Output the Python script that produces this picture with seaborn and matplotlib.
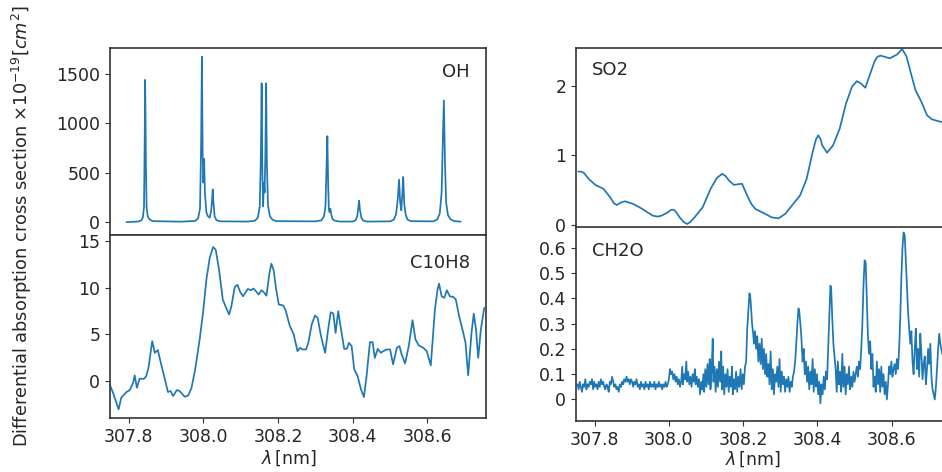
import numpy as np
import pandas as pd
import matplotlib
matplotlib.use("Agg")
import matplotlib.pyplot as plt
import seaborn as sns

# OH cross section (wavelength nm, value)
oh_wl = [307.794, 307.825, 307.834, 307.838, 307.841, 307.843, 307.844, 307.845, 307.846, 307.848, 307.851,
         307.855, 307.864, 307.940, 307.978, 307.986, 307.991, 307.994, 307.996, 307.998, 308.000, 308.002,
         308.004, 308.008, 308.012, 308.017, 308.021, 308.023, 308.025, 308.027, 308.030, 308.035, 308.045,
         308.120, 308.138, 308.146, 308.151, 308.154, 308.156, 308.158, 308.160, 308.162, 308.164, 308.166,
         308.168, 308.170, 308.173, 308.178, 308.185, 308.195, 308.300, 308.316, 308.323, 308.327, 308.330,
         308.332, 308.334, 308.336, 308.338, 308.340, 308.342, 308.346, 308.352, 308.365, 308.400, 308.408,
         308.412, 308.415, 308.417, 308.419, 308.423, 308.428, 308.438, 308.500, 308.510, 308.516, 308.521,
         308.524, 308.527, 308.530, 308.533, 308.535, 308.538, 308.542, 308.547, 308.556, 308.615, 308.626,
         308.633, 308.638, 308.641, 308.644, 308.647, 308.650, 308.655, 308.662, 308.672, 308.689]
oh_val = [0, 6, 18, 50, 150, 900, 1440, 1100, 600, 150, 60,
          30, 10, 5, 12, 40, 140, 800, 1675, 700, 400, 640,
          300, 100, 60, 45, 120, 210, 332, 200, 60, 20, 8,
          6, 15, 45, 160, 700, 1405, 500, 160, 400, 300, 700,
          1405, 600, 170, 60, 25, 10, 8, 18, 60, 160, 600,
          870, 400, 130, 100, 136, 85, 30, 15, 6, 6, 20,
          60, 150, 217, 130, 45, 15, 6, 8, 25, 80, 250,
          430, 200, 120, 300, 457, 180, 70, 25, 10, 8, 25,
          90, 300, 800, 1232, 600, 200, 70, 28, 10, 5]

# C10H8
c10_wl = [307.749, 307.758, 307.773, 307.780, 307.794, 307.803, 307.812, 307.816, 307.822, 307.829,
          307.841, 307.847, 307.853, 307.863, 307.870, 307.878, 307.887, 307.896, 307.905, 307.912,
          307.919, 307.929, 307.936, 307.950, 307.959, 307.968, 307.978, 307.990, 307.999, 308.008,
          308.017, 308.026, 308.033, 308.042, 308.052, 308.061, 308.069, 308.075, 308.084, 308.091,
          308.099, 308.106, 308.112, 308.119, 308.127, 308.134, 308.141, 308.148, 308.155, 308.162,
          308.169, 308.177, 308.182, 308.188, 308.195, 308.202, 308.213, 308.220, 308.231, 308.242,
          308.252, 308.259, 308.265, 308.275, 308.281, 308.290, 308.299, 308.306, 308.315, 308.326,
          308.334, 308.341, 308.348, 308.354, 308.361, 308.368, 308.377, 308.384, 308.390, 308.397,
          308.404, 308.413, 308.422, 308.430, 308.437, 308.446, 308.453, 308.459, 308.467, 308.475,
          308.482, 308.491, 308.500, 308.508, 308.518, 308.525, 308.531, 308.540, 308.550, 308.560,
          308.568, 308.577, 308.589, 308.598, 308.609, 308.620, 308.627, 308.631, 308.638, 308.645,
          308.652, 308.660, 308.669, 308.676, 308.685, 308.696, 308.702, 308.709, 308.718, 308.724,
          308.730, 308.736, 308.743, 308.752]
c10_val = [-0.39, -1.28, -3.07, -1.82, -1.21, -1.0, -0.2, 0.58, -0.75, 0.21,
           0.21, 0.5, 1.4, 4.25, 3.0, 3.29, 1.76, 0.32, -1.21, -1.1,
           -1.64, -1.0, -1.1, -1.71, -1.6, -0.8, 1.22, 4.43, 7.29, 10.86,
           13.2, 14.36, 14.07, 11.9, 8.72, 7.82, 7.11, 8.0, 10.07, 10.3,
           9.5, 9.07, 9.43, 9.86, 9.72, 9.9, 9.61, 9.25, 9.72, 9.5,
           9.14, 11.57, 12.57, 11.9, 9.79, 8.18, 8.1, 7.6, 5.94, 4.97,
           3.18, 3.54, 3.36, 3.36, 4.07, 6.04, 7.0, 6.75, 4.79, 3.0,
           5.5, 7.36, 7.22, 5.14, 7.47, 5.68, 3.43, 3.43, 4.07, 3.72,
           1.22, 0.5, -0.92, -1.75, 0.5, 4.14, 4.14, 2.46, 3.43, 3.0,
           3.18, 3.36, 3.36, 1.76, 3.54, 3.72, 2.83, 1.86, 3.72, 6.5,
           4.43, 3.79, 3.54, 3.18, 1.65, 7.65, 9.79, 10.43, 9.07, 8.9,
           9.72, 9.07, 9.0, 8.72, 6.9, 5.14, 4.07, 0.58, 5.14, 7.22,
           5.5, 2.46, 5.5, 7.82]

# SO2
so2_wl = [307.756, 307.764, 307.771, 307.784, 307.802, 307.824, 307.842, 307.852, 307.860, 307.870,
          307.882, 307.904, 307.926, 307.942, 307.957, 307.970, 307.980, 307.997, 308.006, 308.013,
          308.020, 308.029, 308.040, 308.049, 308.058, 308.069, 308.091, 308.113, 308.130, 308.144,
          308.153, 308.162, 308.175, 308.187, 308.197, 308.211, 308.222, 308.233, 308.260, 308.277,
          308.295, 308.313, 308.331, 308.353, 308.371, 308.387, 308.396, 308.402, 308.408, 308.413,
          308.426, 308.442, 308.460, 308.477, 308.493, 308.506, 308.517, 308.529, 308.544, 308.554,
          308.562, 308.570, 308.580, 308.595, 308.615, 308.628, 308.640, 308.653, 308.664, 308.680,
          308.695, 308.708, 308.726, 308.755]
so2_val = [0.768, 0.765, 0.749, 0.662, 0.575, 0.517, 0.396, 0.310, 0.285, 0.320,
           0.338, 0.300, 0.236, 0.180, 0.130, 0.118, 0.130, 0.178, 0.215, 0.217,
           0.180, 0.106, 0.040, 0.010, 0.040, 0.106, 0.251, 0.526, 0.680, 0.735,
           0.700, 0.638, 0.575, 0.585, 0.590, 0.420, 0.300, 0.227, 0.155, 0.106,
           0.092, 0.155, 0.275, 0.420, 0.662, 1.048, 1.230, 1.290, 1.240, 1.145,
           1.039, 1.145, 1.387, 1.749, 1.990, 2.072, 2.039, 1.976, 2.208, 2.360,
           2.425, 2.440, 2.425, 2.401, 2.459, 2.536, 2.425, 2.159, 1.942, 1.773,
           1.580, 1.522, 1.493, 1.46]

# CH2O
ch2o_wl = [307.754, 307.757, 307.760, 307.763, 307.766, 307.769, 307.772, 307.775, 307.778, 307.781,
           307.784, 307.787, 307.790, 307.793, 307.796, 307.799, 307.802, 307.805, 307.808, 307.811,
           307.814, 307.817, 307.820, 307.823, 307.826, 307.829, 307.832, 307.835, 307.838, 307.841,
           307.844, 307.847, 307.850, 307.853, 307.856, 307.859, 307.862, 307.865, 307.868, 307.871,
           307.874, 307.877, 307.880, 307.883, 307.886, 307.889, 307.892, 307.895, 307.898, 307.901,
           307.904, 307.907, 307.910, 307.913, 307.916, 307.919, 307.922, 307.925, 307.928, 307.931,
           307.934, 307.937, 307.940, 307.943, 307.946, 307.949, 307.952, 307.955, 307.958, 307.961,
           307.964, 307.967, 307.970, 307.973, 307.976, 307.979, 307.982, 307.985, 307.988, 307.991,
           307.994, 307.997, 308.000, 308.003, 308.006, 308.009, 308.012, 308.015, 308.018, 308.021,
           308.024, 308.027, 308.030, 308.033, 308.036, 308.038, 308.041, 308.044, 308.047, 308.049,
           308.052, 308.055, 308.058, 308.061, 308.064, 308.067, 308.070, 308.072, 308.075, 308.078,
           308.081, 308.084, 308.087, 308.090, 308.093, 308.095, 308.098, 308.101, 308.104, 308.107,
           308.110, 308.112, 308.115, 308.118, 308.120, 308.123, 308.126, 308.129, 308.132, 308.135,
           308.138, 308.141, 308.143, 308.146, 308.149, 308.152, 308.155, 308.158, 308.161, 308.164,
           308.167, 308.170, 308.172, 308.175, 308.178, 308.181, 308.184, 308.187, 308.190, 308.193,
           308.196, 308.199, 308.202, 308.205, 308.208, 308.211, 308.214, 308.217, 308.219, 308.221,
           308.224, 308.227, 308.229, 308.232, 308.235, 308.238, 308.241, 308.244, 308.247, 308.250,
           308.253, 308.256, 308.259, 308.262, 308.265, 308.268, 308.271, 308.274, 308.277, 308.280,
           308.283, 308.286, 308.289, 308.292, 308.295, 308.298, 308.301, 308.304, 308.307, 308.310,
           308.313, 308.316, 308.319, 308.322, 308.325, 308.328, 308.331, 308.334, 308.337, 308.340,
           308.343, 308.346, 308.349, 308.351, 308.354, 308.357, 308.360, 308.363, 308.366, 308.369,
           308.372, 308.375, 308.378, 308.381, 308.384, 308.387, 308.390, 308.393, 308.396, 308.399,
           308.402, 308.405, 308.408, 308.411, 308.414, 308.417, 308.420, 308.423, 308.426, 308.429,
           308.432, 308.435, 308.437, 308.440, 308.443, 308.446, 308.449, 308.452, 308.455, 308.458,
           308.461, 308.464, 308.467, 308.470, 308.473, 308.476, 308.479, 308.482, 308.485, 308.488,
           308.491, 308.494, 308.497, 308.500, 308.503, 308.506, 308.509, 308.512, 308.515, 308.518,
           308.521, 308.524, 308.527, 308.530, 308.533, 308.536, 308.539, 308.542, 308.545, 308.548,
           308.551, 308.554, 308.557, 308.560, 308.563, 308.566, 308.569, 308.572, 308.575, 308.578,
           308.581, 308.584, 308.587, 308.590, 308.593, 308.596, 308.599, 308.602, 308.605, 308.608,
           308.611, 308.614, 308.617, 308.620, 308.623, 308.626, 308.629, 308.632, 308.635, 308.638,
           308.641, 308.644, 308.647, 308.650, 308.653, 308.656, 308.659, 308.662, 308.665, 308.668,
           308.671, 308.674, 308.677, 308.680, 308.683, 308.686, 308.689, 308.692, 308.695, 308.698,
           308.701, 308.704, 308.707, 308.710, 308.713, 308.716, 308.719, 308.722, 308.725, 308.728,
           308.731, 308.736, 308.742, 308.748, 308.755]
ch2o_val = [0.06, 0.04, 0.07, 0.05, 0.03, 0.06, 0.05, 0.08, 0.04, 0.06,
            0.05, 0.07, 0.06, 0.08, 0.04, 0.07, 0.05, 0.06, 0.04, 0.07,
            0.05, 0.08, 0.06, 0.07, 0.05, 0.04, 0.06, 0.05, 0.03, 0.07,
            0.06, 0.09, 0.07, 0.05, 0.06, 0.04, 0.05, 0.03, 0.06, 0.05,
            0.07, 0.06, 0.08, 0.07, 0.09, 0.07, 0.08, 0.06, 0.08, 0.07,
            0.05, 0.07, 0.06, 0.08, 0.05, 0.06, 0.04, 0.07, 0.05, 0.06,
            0.04, 0.07, 0.05, 0.06, 0.04, 0.07, 0.05, 0.06, 0.05, 0.07,
            0.04, 0.06, 0.05, 0.07, 0.05, 0.06, 0.04, 0.06, 0.05, 0.07,
            0.05, 0.06, 0.08, 0.12, 0.10, 0.11, 0.08, 0.10, 0.07, 0.09,
            0.06, 0.08, 0.05, 0.07, 0.13, 0.06, 0.10, 0.08, 0.15, 0.07,
            0.11, 0.06, 0.09, 0.05, 0.10, 0.07, 0.12, 0.06, 0.09, 0.05,
            0.08, 0.02, 0.07, 0.04, 0.10, 0.03, 0.12, 0.05, 0.14, 0.06,
            0.16, 0.04, 0.11, 0.24, 0.07, 0.13, 0.03, 0.12, 0.05, 0.15,
            0.07, 0.19, 0.04, 0.13, 0.02, 0.10, 0.05, 0.12, 0.03, 0.09,
            0.05, 0.13, 0.02, 0.08, 0.04, 0.11, 0.03, 0.09, 0.05, 0.12,
            0.04, 0.10, 0.06, 0.13, 0.15, 0.28, 0.35, 0.42, 0.41, 0.37,
            0.30, 0.26, 0.22, 0.27, 0.20, 0.25, 0.15, 0.22, 0.14, 0.24,
            0.12, 0.20, 0.10, 0.18, 0.09, 0.14, 0.06, 0.19, 0.04, 0.12,
            0.02, 0.10, 0.07, 0.13, 0.05, 0.16, 0.03, 0.11, 0.06, 0.09,
            0.03, 0.08, 0.05, 0.09, 0.03, 0.07, 0.05, 0.09, 0.11, 0.15,
            0.22, 0.30, 0.36, 0.35, 0.30, 0.24, 0.15, 0.20, 0.10, 0.15,
            0.07, 0.13, 0.04, 0.11, 0.06, 0.16, 0.03, 0.12, 0.05, 0.10,
            0.02, 0.07, -0.015, 0.06, 0.02, 0.09, 0.04, 0.11, 0.08, 0.20,
            0.33, 0.45, 0.44, 0.32, 0.22, 0.17, 0.12, 0.03, 0.15, 0.06,
            0.11, 0.03, 0.18, 0.05, 0.13, 0.02, 0.10, 0.06, 0.13, 0.04,
            0.09, 0.05, 0.11, 0.07, 0.10, 0.13, 0.09, 0.15, 0.12, 0.20,
            0.30, 0.45, 0.55, 0.54, 0.40, 0.25, 0.18, 0.23, 0.12, 0.18,
            0.05, 0.09, 0.03, 0.15, 0.06, 0.12, 0.03, 0.13, 0.05, 0.10,
            0.02, 0.07, 0.00, 0.06, 0.13, 0.10, 0.15, 0.09, 0.12, 0.14,
            0.10, 0.16, 0.12, 0.20, 0.32, 0.48, 0.60, 0.66, 0.65, 0.55,
            0.45, 0.35, 0.28, 0.22, 0.27, 0.15, 0.10, 0.20, 0.28, 0.12,
            0.20, 0.09, 0.26, 0.18, 0.08, 0.14, 0.17, 0.06, 0.12, 0.20,
            0.14, 0.22, 0.09, 0.04, 0.02, 0.00, 0.05, 0.12, 0.20, 0.26,
            0.22, 0.18, 0.24, 0.15, 0.20]

x_ticks = [307.8, 308.0, 308.2, 308.4, 308.6]
x_lim = (307.75, 308.757)

panels = [
    # name, wl, values, yticks, ylim, axes rect, label pos, label ha
    ("OH", oh_wl, oh_val, [0, 500, 1000, 1500], (-135, 1763),
     [0.1168, 0.5011, 0.3992, 0.3972], (0.957, 0.87), "right"),
    ("C10H8", c10_wl, c10_val, [0, 5, 10, 15], (-4.03, 15.6),
     [0.1168, 0.1138, 0.3992, 0.3873], (0.957, 0.85), "right"),
    ("SO2", so2_wl, so2_val, [0, 1, 2], (-0.04, 2.55),
     [0.6115, 0.518, 0.397, 0.3803], (0.042, 0.878), "left"),
    ("CH2O", ch2o_wl, ch2o_val, [0, 0.1, 0.2, 0.3, 0.4, 0.5, 0.6], (-0.085, 0.68),
     [0.6115, 0.1081, 0.397, 0.41], (0.042, 0.878), "left"),
]

sns.set_style("ticks")
plt.rcParams["font.family"] = ["DejaVu Sans"]
fig = plt.figure(figsize=(9.42, 4.72), dpi=100)

for i, (name, wl, val, yt, yl, rect, lpos, ha) in enumerate(panels):
    ax = fig.add_axes(rect)
    df = pd.DataFrame({"wl": wl, "val": val})
    sns.lineplot(data=df, x="wl", y="val", ax=ax, color="#1f77b4", linewidth=1.25, estimator=None)
    ax.set_xlim(*x_lim)
    ax.set_ylim(*yl)
    ax.set_xticks(x_ticks)
    ax.set_yticks(yt)
    ax.set_yticklabels(["0" if v == 0 else f"{v:g}" for v in yt])
    ax.tick_params(labelsize=12.5, length=3.5, color="#333333", labelcolor="#262626")
    for s in ax.spines.values():
        s.set_color("#333333")
        s.set_linewidth(1.2)
    ax.set_ylabel("")
    if i % 2 == 0:
        ax.set_xticklabels([])
        ax.set_xlabel("")
    else:
        ax.set_xticklabels([f"{v:.1f}" for v in x_ticks])
        ax.set_xlabel(r"$\lambda\,$[nm]", fontsize=12.5, color="#262626")
        if i == 1:
            ax.xaxis.set_label_coords(0.476, -0.165)
        else:
            ax.xaxis.set_label_coords(0.472, -0.145)
    ax.text(lpos[0], lpos[1], name, transform=ax.transAxes, ha=ha, va="center",
            fontsize=13, color="#262626")

fig.text(0.023, 0.522, r"Differential absorption cross section $\times 10^{-19} [cm^2]$",
         rotation=90, ha="center", va="center", fontsize=12.8, color="#262626")

fig.savefig("out.png", dpi=100)
